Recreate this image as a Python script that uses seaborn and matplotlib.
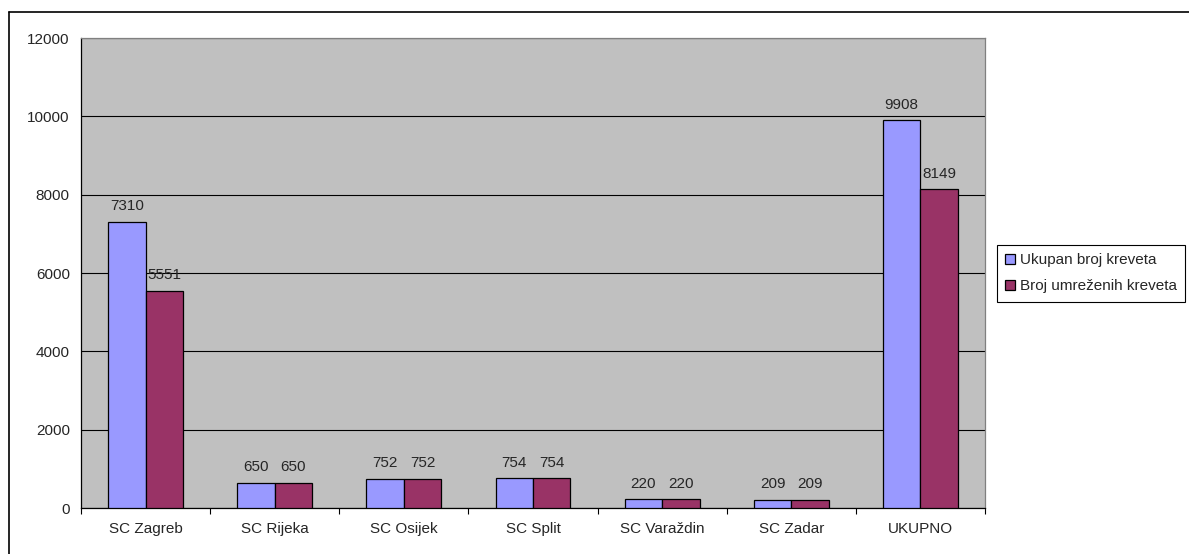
import pandas as pd
import seaborn as sns
import matplotlib.pyplot as plt
from matplotlib.lines import Line2D

# data
centri = ["SC Zagreb", "SC Rijeka", "SC Osijek", "SC Split", "SC Varaždin", "SC Zadar", "UKUPNO"]
ukupno_kreveta = [7310, 650, 752, 754, 220, 209, 9908]
umrezeni_kreveti = [5551, 650, 752, 754, 220, 209, 8149]
serije = ["Ukupan broj kreveta", "Broj umreženih kreveta"]
boje = ["#9999FF", "#993366"]

df = pd.DataFrame({"centar": centri * 2,
                   "serija": [serije[0]] * len(centri) + [serije[1]] * len(centri),
                   "kreveti": ukupno_kreveta + umrezeni_kreveti})

sns.set_style("white")
plt.rcParams["font.family"] = ["Liberation Sans", "DejaVu Sans"]
plt.rcParams["font.size"] = 11

fig = plt.figure(figsize=(11.89, 5.54), dpi=100)
ax = fig.add_axes([0.0681, 0.083, 0.7603, 0.8484])
ax.set_facecolor("#C0C0C0")

sns.barplot(data=df, x="centar", y="kreveti", hue="serija", palette=boje, saturation=1,
            width=0.58, edgecolor="black", linewidth=0.9, ax=ax, zorder=3)

for c in ax.containers:
    ax.bar_label(c, padding=6, fontsize=11)

# y axis
ax.set_ylim(0, 12000)
ax.set_yticks(range(0, 12001, 2000))
ax.yaxis.grid(True, color="black", linewidth=0.8, zorder=1)
ax.set_axisbelow(True)
ax.tick_params(axis="y", length=4, width=0.8, color="black", labelsize=11, pad=4)

# x axis: ticks between the categories
ax.set_xlim(-0.5, len(centri) - 0.5)
ax.set_xticks([i - 0.5 for i in range(len(centri) + 1)], minor=True)
ax.tick_params(axis="x", which="major", length=0, labelsize=11, pad=10)
ax.tick_params(axis="x", which="minor", length=4, width=0.8, color="black", bottom=True)
ax.set_xlabel("")
ax.set_ylabel("")

for s in ["left", "bottom"]:
    ax.spines[s].set_color("black")
    ax.spines[s].set_linewidth(0.9)
for s in ["top", "right"]:
    ax.spines[s].set_color("#808080")
    ax.spines[s].set_linewidth(0.9)

ax.legend(loc="upper left", bbox_to_anchor=(0.8385, 0.558), bbox_transform=fig.transFigure,
          frameon=True, fancybox=False, edgecolor="black", framealpha=1,
          handlelength=0.65, handleheight=0.65, handletextpad=0.3,
          borderpad=0.55, labelspacing=0.8, fontsize=11, borderaxespad=0)
ax.get_legend().get_frame().set_linewidth(0.8)

# outer chart border (left and top edges visible in the reference)
fig.add_artist(Line2D([8.5 / 1189, 8.5 / 1189], [0, 1 - 12 / 554], transform=fig.transFigure,
                      color="black", linewidth=1.2))
fig.add_artist(Line2D([8.5 / 1189, 1], [1 - 12 / 554, 1 - 12 / 554], transform=fig.transFigure,
                      color="black", linewidth=1.2))

fig.savefig("out.png", dpi=100)
